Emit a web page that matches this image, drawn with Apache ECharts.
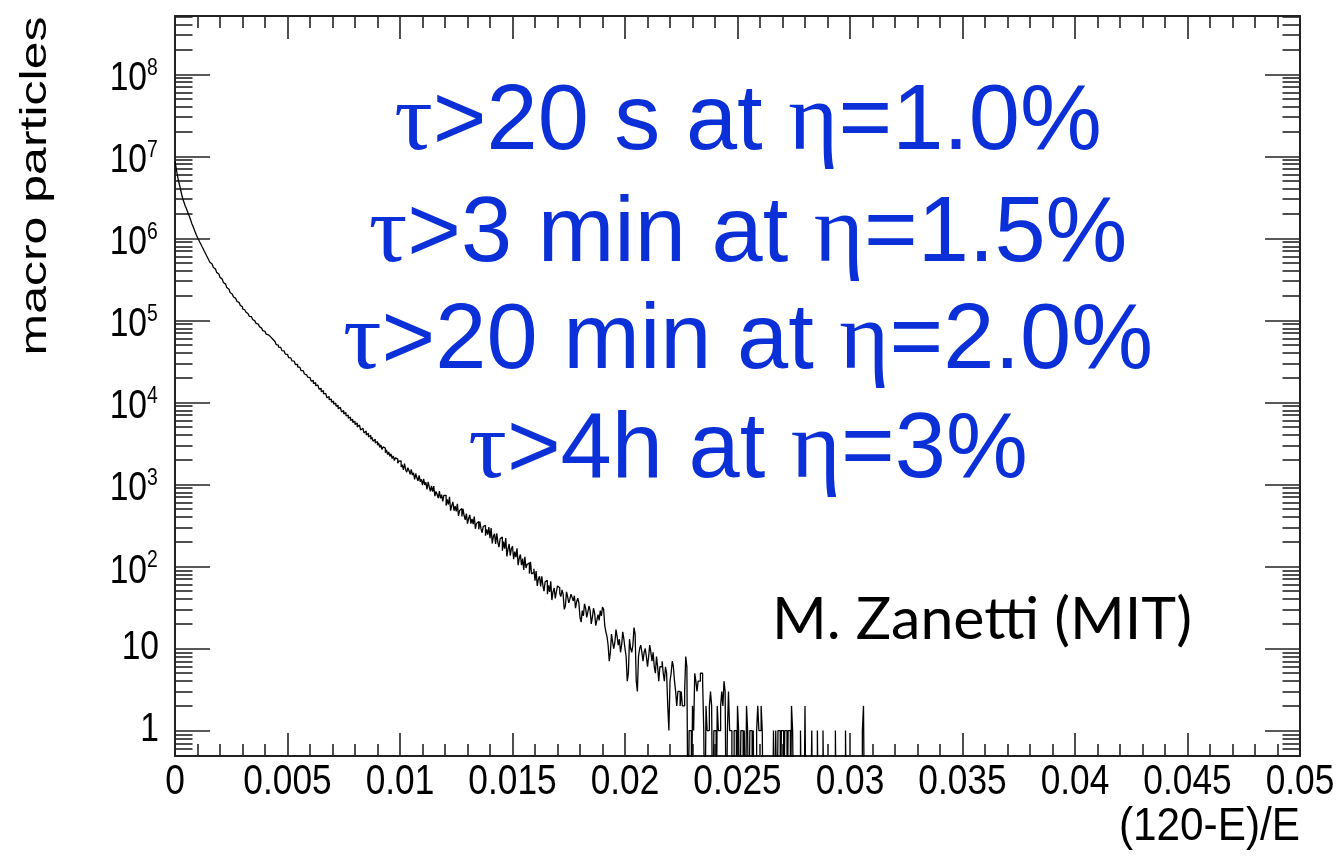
<!DOCTYPE html>
<html><head><meta charset="utf-8">
<script src="https://cdn.jsdelivr.net/npm/echarts@6/dist/echarts.min.js"></script>
<style>html,body{margin:0;padding:0;background:#fff;}#c{width:1337px;height:858px;}</style>
</head><body><div id="c"></div>
<script>
// ---- data ----
const binWidth = 0.00005;          // histogram bin width in (120-E)/E
const counts = [
 8700000,7200000,6000000,5100000,4500000,3900000,3400000,3000000,2750000,2500000,2320000,2140000,1970000,1820000,1660000,1510000,1400000,1290000,1190000,1100000,
 1023000,961600,901600,847200,794300,746400,699800,657700,616600,579400,543300,510500,487500,464500,443600,422700,403600,384600,367300,349900,
 334200,318400,304100,289700,276700,263600,251800,239900,229100,218300,208400,200400,192800,185400,178200,171400,164800,158500,152400,146600,
 138300,134800,129300,126600,120400,117800,112200,110800,105300,102700,98600,96300,92000,90000,86000,84000,80500,78700,75000,73600,
 71500,67900,66800,63400,62900,59600,58900,55700,54900,53600,50500,49900,47100,46900,45600,42800,42400,41300,38900,38600,
 37600,35100,34900,33900,32000,31800,30100,29000,29100,27000,26900,26400,24500,24400,23900,22200,21700,21800,20300,20100,
 19900,18200,18500,17000,17400,16000,16300,15900,14500,14800,13500,13900,12700,12900,12500,11400,11800,10800,11000,10100,
 10400,9540,9790,9020,9230,8400,8690,8480,7680,7930,7250,7520,6830,7020,6430,6650,6040,6230,5710,5890,
 5390,5620,5010,5290,5150,4600,4860,4730,4250,4480,4000,4220,3800,3990,3560,3780,3370,3550,3200,3340,
 3010,3210,2830,3040,2660,2870,2770,2440,2640,2310,2490,2200,2360,2070,2230,1960,2110,2040,1820,1930,
 1944,1637,1744,1503,1793,1526,1411,1601,1470,1325,1526,1302,1383,1157,1359,1205,1104,1287,1081,1154,
 981,1166,988,1061,868,1076,937,823,962,817,957,719,821,754,682,828,677,753,623,736,
 738,553,659,570,706,479,553,612,478,546,470,581,414,481,508,408,505,415,371,441,
 333,385,426,333,380,328,405,288,335,353,284,353,289,258,307,317,237,284,245,303,
 221,294,191,233,251,189,254,197,172,218,229,156,201,165,222,133,163,188,136,165,
 177,123,152,130,167,104,126,140,104,125,91,131,96,106,111,82,114,81,85,94,
 67,88,58,70,76,57,76,59,50,65,68,46,59,49,66,39,49,55,41,49,
 58,55,47,43,52,46,30,33,49,43,36,40,46,42,38,44,31,37,41,36,
 24,21,29,25,35,31,24,28,33,29,20,24,31,27,19,22,26,22,29,25,32,30,19,16,
 14,11,7,9,15,12,10,12,17,14,11,13,9,11,16,13,10,8,4,5,13,10,9,11,18,15,4,3,8,10,11,9,7,9,10,8,6,8,11,9,7,9,6,5,8,6,4,6,
 6,7,5,4,6,5,2,1,4,5,7,6,4,3,2,3,3,2,3,2,2,3,8,6,0,1,1,0,2,1,
 5,4,3,4,4,5,5,4,1,0,2,1,1,2,3,2,0,1,1,0,2,1,1,2,3,2,4,3,0,1,
 3,1,1,0,0,1,1,0,2,1,0,1,1,0,1,0,2,1,0,1,1,0,1,0,0,1,2,1,1,2,
 1,0,0,0,0,0,0,0,0,0,1,0,1,0,1,1,0,1,1,0,1,1,0,1,1,0,2,1,0,0,
 0,0,0,0,1,0,0,0,2,0,0,0,0,0,1,0,0,0,0,1,0,0,0,0,1,0,0,0,0,0,
 0,0,0,0,0,1,0,0,0,0,0,0,0,0,1,0,0,0,0,0,0,0,0,0,0,0,0,0,0,1,
 2,0
];
const xMin = 0, xMax = 0.05, xStep = 0.005;
const xTickLabels = ['0','0.005','0.01','0.015','0.02','0.025','0.03','0.035','0.04','0.045','0.05'];
const yMinCount = 0.49, yMaxCount = 5.13e8;
const yDecades = [0,1,2,3,4,5,6,7,8];
const yTickLabels = ['1','10','10^2','10^3','10^4','10^5','10^6','10^7','10^8'];
const xTitle = '(120-E)/E';
const yTitle = 'macro particles';
const annotationLines = ['τ>20 s at η=1.0%','τ>3 min at η=1.5%','τ>20 min at η=2.0%','τ>4h at η=3%'];
const credit = 'M. Zanetti (MIT)';

// ---- build ----
const SANS = "'Liberation Sans',Arial,Helvetica,sans-serif";
const yMin = Math.log10(yMinCount), yMax = Math.log10(yMaxCount);
const lv = c => c > 0 ? Math.log10(c) : yMin - 1;
const histData = counts.map((c, i) => [i * binWidth, lv(c)]);
histData.push([counts.length * binWidth, lv(counts[counts.length - 1])]);

const minorVals = [];
for (let n = -1; n <= 8; n++) for (let k = 2; k <= 9; k++) {
  const v = n + Math.log10(k);
  if (v > yMin && v < yMax) minorVals.push(v);
}
const frameColor = '#222';
function yAx(pos, major) {
  return {
    type: 'value', min: yMin, max: yMax, position: pos,
    axisLine: { show: major, onZero: false, lineStyle: { color: frameColor, width: 2 } },
    axisTick: { show: true, inside: true, length: major ? 35 : 17.5, customValues: major ? yDecades : minorVals,
      lineStyle: { color: frameColor, width: 1.6 } },
    axisLabel: { show: false },
    splitLine: { show: false }
  };
}
function xAx(pos) {
  return {
    type: 'value', min: xMin, max: xMax, interval: xStep, position: pos,
    axisLine: { show: true, onZero: false, lineStyle: { color: frameColor, width: 2 } },
    axisTick: { show: true, inside: true, length: 23, lineStyle: { color: frameColor, width: 1.6 } },
    minorTick: { show: true, splitNumber: 5, length: 12, lineStyle: { color: frameColor, width: 1.6 } },
    axisLabel: { show: false },
    splitLine: { show: false }, minorSplitLine: { show: false }
  };
}

const chart = echarts.init(document.getElementById('c'), null, { renderer: 'canvas' });
chart.setOption({
  animation: false,
  backgroundColor: '#fff',
  grid: { left: 175, right: 37, top: 16, bottom: 102, containLabel: false, outerBoundsMode: 'none' },
  xAxis: [xAx('bottom'), xAx('top')],
  yAxis: [yAx('left', true), yAx('left', false), yAx('right', true), yAx('right', false)],
  series: [{
    type: 'line', step: 'end', data: histData, xAxisIndex: 0, yAxisIndex: 0,
    symbol: 'none', clip: true, lineStyle: { color: '#000', width: 1.3 }
  }]
});

// ---- text: tick labels placed through the axes' own scales ----
const SQ = 0.84; // horizontal squeeze of the original picture's fonts
const g = [];
const leftPx = chart.convertToPixel({ xAxisIndex: 0 }, xMin);
const bottomPx = chart.convertToPixel({ yAxisIndex: 0 }, yMin);
xTickLabels.forEach((t, i) => {
  const px = chart.convertToPixel({ xAxisIndex: 0 }, xMin + i * xStep);
  g.push({ type: 'text', x: px, y: bottomPx + 26, scaleX: SQ, z: 50,
    style: { text: t, fontFamily: SANS, fontSize: 42, fill: '#000', align: 'center', verticalAlign: 'middle' } });
});
yTickLabels.forEach((t, n) => {
  const py = chart.convertToPixel({ yAxisIndex: 0 }, yDecades[n]);
  const parts = t.split('^');
  if (parts.length === 1) {
    g.push({ type: 'text', x: leftPx - 16, y: py - 1, scaleX: SQ, z: 50,
      style: { text: t, fontFamily: SANS, fontSize: 40, fill: '#000', align: 'right', verticalAlign: 'middle' } });
  } else {
    g.push({ type: 'text', x: leftPx - 28, y: py + 5, scaleX: SQ, z: 50,
      style: { text: parts[0], fontFamily: SANS, fontSize: 40, fill: '#000', align: 'right', verticalAlign: 'middle' } });
    g.push({ type: 'text', x: leftPx - 28, y: py - 6, scaleX: SQ, z: 50,
      style: { text: parts[1], fontFamily: SANS, fontSize: 23, fill: '#000', align: 'left', verticalAlign: 'middle' } });
  }
});
g.push({ type: 'text', x: 1300, y: 827, scaleX: 0.92, z: 50,
  style: { text: xTitle, fontFamily: SANS, fontSize: 46, fill: '#000', align: 'right', verticalAlign: 'middle' } });
g.push({ type: 'text', x: 36, y: 186, rotation: Math.PI / 2, scaleY: 0.75, z: 50,
  style: { text: yTitle, fontFamily: SANS, fontSize: 50, fill: '#000', align: 'center', verticalAlign: 'middle' } });

const BLUE = '#0b30d8';
const annY = [124, 236, 343, 452];
annotationLines.forEach((t, i) => g.push({
  type: 'text', x: 748, y: annY[i], z: 100,
  style: {
    text: t.replace(/([τη])/g, '{g|$1}'),
    fontFamily: SANS, fontSize: 92, fill: BLUE, align: 'center', verticalAlign: 'middle',
    rich: { g: { fontFamily: "'Liberation Serif','DejaVu Serif',serif", fontSize: 96, fill: BLUE } }
  }
}));
g.push({ type: 'text', x: 772, y: 620, z: 100,
  style: { text: credit, fontFamily: "Lato,'Open Sans',sans-serif", fontSize: 59, fill: '#000', align: 'left', verticalAlign: 'middle' } });

chart.setOption({ graphic: { elements: g } });
</script></body></html>
